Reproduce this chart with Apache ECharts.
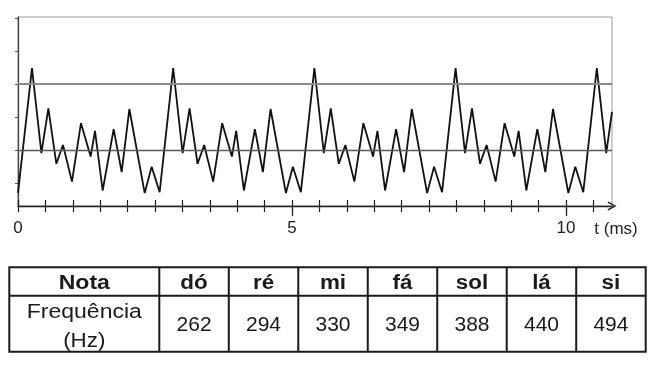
<!DOCTYPE html>
<html><head><meta charset="utf-8">
<script src="https://cdn.jsdelivr.net/npm/echarts@6/dist/echarts.min.js"></script>
<style>html,body{margin:0;padding:0;background:#fff}#c{width:648px;height:384px}</style>
</head><body><div id="c"></div>
<script>
// waveform samples (time in ms, amplitude in arbitrary units)
const tMs = [0, 0.255, 0.427, 0.554, 0.700, 0.821, 0.985, 1.149, 1.326, 1.405, 1.545, 1.746, 1.892, 2.032, 2.312, 2.439, 2.585,
  2.832, 3.004, 3.131, 3.277, 3.398, 3.562, 3.726, 3.903, 3.982, 4.122, 4.323, 4.469, 4.609, 4.889, 5.016, 5.162,
  5.409, 5.581, 5.708, 5.854, 5.975, 6.139, 6.303, 6.480, 6.559, 6.699, 6.900, 7.046, 7.186, 7.466, 7.593, 7.739,
  7.986, 8.158, 8.285, 8.431, 8.552, 8.716, 8.880, 9.057, 9.136, 9.276, 9.477, 9.623, 9.763, 10.043, 10.170, 10.316,
  10.563, 10.735, 10.84];
const amp = [-1.30, 2.48, -0.10, 1.26, -0.42, 0.15, -0.96, 0.81, -0.20, 0.58, -1.23, 0.63, -0.67, 1.24, -1.31, -0.51, -1.28,
  2.48, -0.10, 1.26, -0.42, 0.15, -0.96, 0.81, -0.20, 0.58, -1.23, 0.63, -0.67, 1.24, -1.31, -0.51, -1.28,
  2.48, -0.10, 1.26, -0.42, 0.15, -0.96, 0.81, -0.20, 0.58, -1.23, 0.63, -0.67, 1.24, -1.31, -0.51, -1.28,
  2.48, -0.10, 1.26, -0.42, 0.15, -0.96, 0.81, -0.20, 0.58, -1.23, 0.63, -0.67, 1.24, -1.31, -0.51, -1.28,
  2.48, -0.10, 1.15];
const refLevels = [2, 0];
const xTickValues = [0, 0.5, 1, 1.5, 2, 2.5, 3, 3.5, 4, 4.5, 5, 5.5, 6, 6.5, 7, 7.5, 8, 8.5, 9, 9.5, 10, 10.5];
const xMajorTickValues = [5, 10];
const xLabelValues = [0, 5, 10];
const yTickValues = [-1, 0, 1, 2, 3, 4];
const xAxisName = 't (ms)';
const tableHeader = 'Nota';
const tableRowLabel = ['Frequência', '(Hz)'];
const notes = ['dó', 'ré', 'mi', 'fá', 'sol', 'lá', 'si'];
const freqs = [262, 294, 330, 349, 388, 440, 494];

const FONT = "'Liberation Sans', Arial, Helvetica, sans-serif";
const X_MIN = 0, X_MAX = 10.84, Y_MIN = -1.7, Y_MAX = 4.03;

const chart = echarts.init(document.getElementById('c'), null, { renderer: 'canvas' });

function xAxisBase(extra) {
  return Object.assign({
    type: 'value', gridIndex: 0, position: 'bottom', min: X_MIN, max: X_MAX, interval: 0.5,
    splitLine: { show: false }, axisLabel: { show: false }
  }, extra);
}

const xAxes = [
  xAxisBase({
    axisLine: { show: true, onZero: false, lineStyle: { color: '#1e1e1e', width: 1.3 },
      symbol: ['none', 'path://M5,0 L10,9 L8.6,10 L5,3 L1.4,10 L0,9 Z'], symbolSize: [10, 9] },
    axisTick: { show: true, inside: true, length: 6, customValues: xTickValues, lineStyle: { color: '#1e1e1e', width: 1.2 } },
    axisLabel: { show: true, customValues: xLabelValues, fontSize: 17, color: '#222', margin: 14, fontFamily: FONT,
      formatter: v => (v % 5 === 0 ? String(v) : '') }
  }),
  xAxisBase({
    axisLine: { show: false, onZero: false },
    axisTick: { show: true, inside: false, length: 6, customValues: xTickValues, lineStyle: { color: '#1e1e1e', width: 1.2 } }
  }),
  xAxisBase({
    axisLine: { show: false, onZero: false },
    axisTick: { show: true, inside: false, length: 10, customValues: xMajorTickValues, lineStyle: { color: '#1e1e1e', width: 1.2 } }
  })
];

const graphic = [];
// t (ms) axis title
graphic.push({ type: 'text', x: 616, y: 229, silent: true,
  style: { text: xAxisName, font: '17px ' + FONT, fill: '#222', align: 'center', verticalAlign: 'middle' } });

// table
const T_LEFT = 9.3, T_RIGHT = 645.7, T_TOP = 267.3, T_MID = 295.7, T_BOTTOM = 351.7, FIRST_W = 150;
const colW = (T_RIGHT - T_LEFT - FIRST_W) / notes.length;
const lineStyle = { stroke: '#1a1a1a', lineWidth: 2, fill: 'none' };
graphic.push({ type: 'rect', silent: true, shape: { x: T_LEFT, y: T_TOP, width: T_RIGHT - T_LEFT, height: T_BOTTOM - T_TOP }, style: lineStyle });
graphic.push({ type: 'line', silent: true, shape: { x1: T_LEFT, y1: T_MID, x2: T_RIGHT, y2: T_MID }, style: lineStyle });
for (let i = 0; i < notes.length; i++) {
  const xl = T_LEFT + FIRST_W + i * colW;
  graphic.push({ type: 'line', silent: true, shape: { x1: xl, y1: T_TOP, x2: xl, y2: T_BOTTOM }, style: lineStyle });
}
function cellText(text, cx, cy, bold, sx) {
  return { type: 'text', x: cx, y: cy, scaleX: sx, silent: true,
    style: { text: text, font: (bold ? 'bold ' : '') + '20px ' + FONT, fill: '#1a1a1a', align: 'center', verticalAlign: 'middle' } };
}
const firstCx = T_LEFT + FIRST_W / 2;
graphic.push(cellText(tableHeader, firstCx, 283, true, 1.15));
graphic.push(cellText(tableRowLabel[0], firstCx, 312.5, false, 1.15));
graphic.push(cellText(tableRowLabel[1], firstCx, 341.5, false, 1.12));
for (let i = 0; i < notes.length; i++) {
  const cx = T_LEFT + FIRST_W + (i + 0.5) * colW;
  graphic.push(cellText(notes[i], cx, 283, true, 1.12));
  graphic.push(cellText(String(freqs[i]), cx, 325.5, false, 1.05));
}

chart.setOption({
  animation: false,
  backgroundColor: '#fff',
  grid: { left: 18, right: 36, top: 17, bottom: 178, show: true, borderColor: '#9a9a9a', borderWidth: 1, containLabel: false, outerBoundsMode: 'none' },
  xAxis: xAxes,
  yAxis: {
    type: 'value', min: Y_MIN, max: Y_MAX, interval: 1,
    axisLine: { show: true, onZero: false, lineStyle: { color: '#444', width: 1.3 } },
    axisTick: { show: true, inside: false, length: 3, customValues: yTickValues, lineStyle: { color: '#555', width: 1 } },
    axisLabel: { show: false },
    splitLine: { show: false }
  },
  series: [{
    type: 'line',
    xAxisIndex: 0,
    data: tMs.map((t, i) => [t, amp[i]]),
    showSymbol: false,
    symbol: 'none',
    lineStyle: { color: '#111', width: 1.8 },
    z: 3,
    markLine: {
      silent: true, symbol: ['none', 'none'], label: { show: false },
      data: [
        { yAxis: refLevels[0], lineStyle: { color: '#8a8a8a', width: 2.2, type: 'solid' } },
        { yAxis: refLevels[1], lineStyle: { color: '#5a5a5a', width: 1.3, type: 'solid' } }
      ]
    }
  }],
  graphic: graphic
});
</script>
</body></html>
